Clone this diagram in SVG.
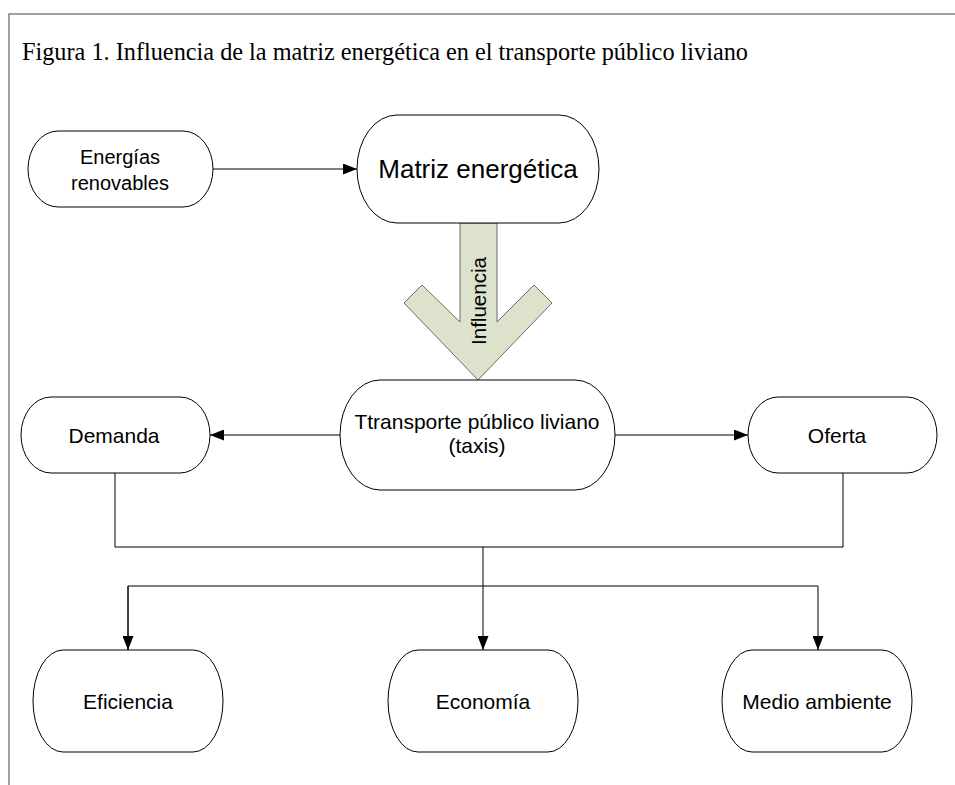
<svg xmlns="http://www.w3.org/2000/svg" width="955" height="785" viewBox="0 0 955 785">
<style>
.node rect{fill:#ffffff;stroke:#000000;stroke-width:1}
.lbl{font-family:"Liberation Sans",Arial,sans-serif;font-size:21px;fill:#000000;text-anchor:middle}
.conn line,.conn polyline{fill:none;stroke:#000000;stroke-width:1}
</style>
<defs>
<marker id="ah" viewBox="0 0 14 11" refX="14" refY="5.5" markerWidth="14" markerHeight="11" markerUnits="userSpaceOnUse" orient="auto">
<path d="M0,0 L14,5.5 L0,11 Z" fill="#000000"/>
</marker>
</defs>
<rect x="0" y="0" width="955" height="785" fill="#ffffff"/>
<polyline points="9,785 9,14 955,14" fill="none" stroke="#808080" stroke-width="1.5"/>
<text x="22" y="60" font-family="Liberation Serif,'Times New Roman',serif" font-size="26" fill="#000000" textLength="726" lengthAdjust="spacingAndGlyphs">Figura 1. Influencia de la matriz energética en el transporte público liviano</text>

<g class="conn" id="connectors">
<line x1="213" y1="169" x2="357" y2="169" marker-end="url(#ah)"/>
<line x1="340" y1="435" x2="210" y2="435" marker-end="url(#ah)"/>
<line x1="615" y1="435" x2="748" y2="435" marker-end="url(#ah)"/>
<polyline points="115,473 115,547 843,547 843,473"/>
<line x1="483" y1="547" x2="483" y2="650" marker-end="url(#ah)"/>
<polyline points="128,650 128,586 818,586 818,650" marker-end="url(#ah)"/>
<line x1="128" y1="586" x2="128" y2="650" marker-end="url(#ah)"/>
</g>

<g id="influencia">
<polygon points="460,223 460,322 422,285 404,303 478,380 552,303 534,285 497,322 497,223" fill="#dde2cc" stroke="#6b6b6b" stroke-width="1"/>
<text class="lbl" transform="translate(486,301) rotate(-90)" style="font-size:20px" textLength="88" lengthAdjust="spacingAndGlyphs">Influencia</text>
</g>

<g class="node" id="n-energias">
<rect x="28" y="131" width="185" height="76" rx="30" ry="38"/>
<text class="lbl" x="120" y="164" style="font-size:20px">Energías</text>
<text class="lbl" x="120" y="190" style="font-size:20px">renovables</text>
</g>
<g class="node" id="n-matriz">
<rect x="357" y="115" width="242" height="108" rx="40" ry="54"/>
<text class="lbl" x="478" y="178" style="font-size:26px">Matriz energética</text>
</g>
<g class="node" id="n-transporte">
<rect x="340" y="380" width="275" height="110" rx="40" ry="55"/>
<text class="lbl" x="477" y="429">Ttransporte público liviano</text>
<text class="lbl" x="477" y="453">(taxis)</text>
</g>
<g class="node" id="n-demanda">
<rect x="21" y="397" width="189" height="76" rx="30" ry="38"/>
<text class="lbl" x="114" y="443">Demanda</text>
</g>
<g class="node" id="n-oferta">
<rect x="748" y="397" width="189" height="76" rx="30" ry="38"/>
<text class="lbl" x="837" y="443">Oferta</text>
</g>
<g class="node" id="n-eficiencia">
<rect x="33" y="650" width="190" height="102" rx="30" ry="51"/>
<text class="lbl" x="128" y="709">Eficiencia</text>
</g>
<g class="node" id="n-economia">
<rect x="388" y="650" width="190" height="102" rx="30" ry="51"/>
<text class="lbl" x="483" y="709">Economía</text>
</g>
<g class="node" id="n-medio">
<rect x="722" y="650" width="190" height="102" rx="30" ry="51"/>
<text class="lbl" x="817" y="709">Medio ambiente</text>
</g>
</svg>
